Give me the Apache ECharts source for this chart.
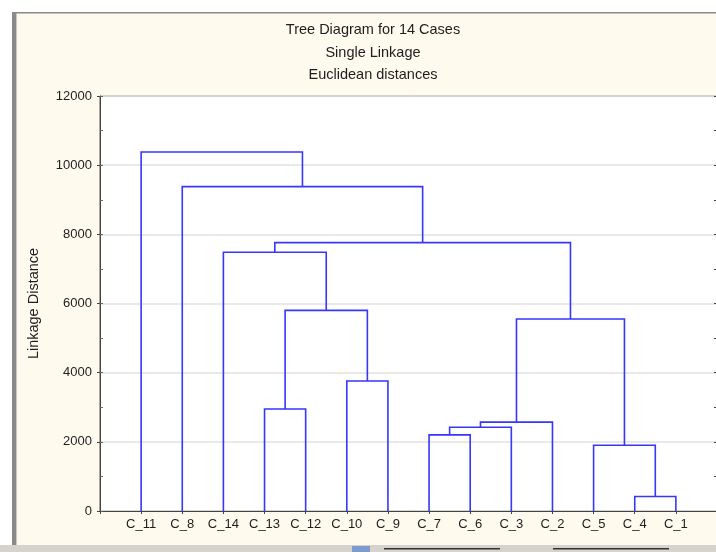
<!DOCTYPE html>
<html>
<head>
<meta charset="utf-8">
<script src="https://cdn.jsdelivr.net/npm/echarts@6/dist/echarts.min.js"></script>
<style>
  html, body { margin: 0; padding: 0; background: #ffffff; }
  #chart { width: 716px; height: 552px; }
</style>
</head>
<body>
<div id="chart"></div>
<script>
// Leaf order along the horizontal axis
const leaves = ['C_11', 'C_8', 'C_14', 'C_13', 'C_12', 'C_10', 'C_9',
                'C_7', 'C_6', 'C_3', 'C_2', 'C_5', 'C_4', 'C_1'];

// Each merge joins two nodes; leaves are nodes 0..13, merge k creates node 14+k
const mergeLeft   = [12, 11, 7, 16, 17, 3, 5, 18, 19, 2, 23, 1, 0];
const mergeRight  = [13, 14, 8, 9, 10, 4, 6, 15, 20, 22, 21, 24, 25];
const mergeHeight = [420, 1900, 2200, 2420, 2570, 2950, 3760, 5550, 5800, 7480, 7760, 9380, 10380];

const yTicks = [0, 2000, 4000, 6000, 8000, 10000, 12000];

const titleLines = ['Tree Diagram for 14 Cases', 'Single Linkage', 'Euclidean distances'];

// Position (x) and height of every node, filled in as merges are processed
const nodeX = leaves.map((_, i) => i + 1);
const nodeH = leaves.map(() => 0);
const links = [];
mergeHeight.forEach((h, k) => {
  const a = mergeLeft[k], b = mergeRight[k];
  links.push([nodeX[a], nodeH[a], nodeX[b], nodeH[b], h]);
  nodeX.push((nodeX[a] + nodeX[b]) / 2);
  nodeH.push(h);
});

const FONT = '"Liberation Sans", Arial, sans-serif';
const chart = echarts.init(document.getElementById('chart'), null, { renderer: 'canvas' });

const yMin = yTicks[0], yMax = yTicks[yTicks.length - 1];

chart.setOption({
  backgroundColor: '#ffffff',
  animation: false,
  graphic: [
    // window panel background and frame
    { type: 'rect', z: -10, silent: true,
      shape: { x: 12, y: 12, width: 740, height: 560 },
      style: { fill: '#fffaee', stroke: null } },
    { type: 'rect', z: -9, silent: true,
      shape: { x: 12, y: 12, width: 4, height: 540 },
      style: { fill: '#8a8a8a' } },
    { type: 'rect', z: -9, silent: true,
      shape: { x: 16, y: 13, width: 1, height: 540 },
      style: { fill: '#c8c8c8' } },
    { type: 'rect', z: -9, silent: true,
      shape: { x: 12, y: 12, width: 720, height: 1.5 },
      style: { fill: '#8a8a8a' } },
    // status strip at the bottom
    { type: 'rect', z: 20, silent: true,
      shape: { x: 0, y: 545, width: 716, height: 7 },
      style: { fill: '#d6d3cc' } },
    { type: 'rect', z: 21, silent: true,
      shape: { x: 352, y: 546, width: 18, height: 6 },
      style: { fill: '#7e9bd0' } },
    { type: 'rect', z: 21, silent: true,
      shape: { x: 384, y: 548, width: 116, height: 1.5 },
      style: { fill: '#333333' } },
    { type: 'rect', z: 21, silent: true,
      shape: { x: 553, y: 548, width: 116, height: 1.5 },
      style: { fill: '#333333' } },
    // title lines
    ...titleLines.map((t, i) => ({
      type: 'text', z: 10, silent: true,
      style: { text: t, x: 373, y: 30 + i * 22.5, align: 'center', verticalAlign: 'middle',
               font: '14.5px ' + FONT, fill: '#1e1e1e' }
    }))
  ],
  grid: { left: 100, top: 96, width: 617, bottom: 41, show: true,
          outerBoundsMode: 'none', containLabel: false,
          backgroundColor: '#ffffff', borderColor: '#555555', borderWidth: 1 },
  xAxis: [
    {
      type: 'value', min: 0, max: leaves.length + 1, interval: 1, position: 'bottom',
      axisLine: { show: true, lineStyle: { color: '#444444', width: 1 } },
      axisTick: { show: false },
      splitLine: { show: false },
      axisLabel: {
        margin: 7, fontFamily: FONT, fontSize: 13, color: '#1e1e1e',
        formatter: v => (v >= 1 && v <= leaves.length) ? leaves[v - 1] : ''
      }
    },
    {
      type: 'value', min: 0, max: leaves.length + 1, interval: 1, position: 'top',
      axisLine: { show: true, lineStyle: { color: '#444444', width: 1 } },
      axisTick: { show: true, inside: true, length: 3, lineStyle: { color: '#444444' } },
      splitLine: { show: false },
      axisLabel: { show: false }
    }
  ],
  yAxis: [
    {
      type: 'value', min: yMin, max: yMax, interval: 2000, position: 'left',
      name: 'Linkage Distance', nameLocation: 'middle', nameGap: 59, nameRotate: 90,
      nameTextStyle: { fontFamily: FONT, fontSize: 14.5, color: '#1e1e1e' },
      axisLine: { show: true, lineStyle: { color: '#444444', width: 1 } },
      axisTick: { show: true, inside: false, length: 3, lineStyle: { color: '#444444' } },
      splitLine: { show: true, lineStyle: { color: '#e2e2e2', width: 1.5 } },
      axisLabel: { margin: 8, fontFamily: FONT, fontSize: 13, color: '#1e1e1e',
                   formatter: v => String(v) }
    },
    {
      type: 'value', min: yMin, max: yMax, interval: 1000, position: 'left',
      axisLine: { show: false },
      axisTick: { show: true, inside: true, length: 3, lineStyle: { color: '#666666' } },
      splitLine: { show: false },
      axisLabel: { show: false }
    },
    {
      type: 'value', min: yMin, max: yMax, interval: 1000, position: 'right',
      axisLine: { show: true, lineStyle: { color: '#444444', width: 1 } },
      axisTick: { show: true, inside: true, length: 3, lineStyle: { color: '#444444' } },
      splitLine: { show: false },
      axisLabel: { show: false }
    }
  ],
  series: [{
    type: 'custom',
    xAxisIndex: 0,
    yAxisIndex: 0,
    silent: true,
    z: 5,
    data: links,
    renderItem: function (params, api) {
      const xl = api.value(0), hl = api.value(1), xr = api.value(2), hr = api.value(3), h = api.value(4);
      const pts = [api.coord([xl, hl]), api.coord([xl, h]), api.coord([xr, h]), api.coord([xr, hr])];
      return {
        type: 'polyline',
        shape: { points: pts },
        style: { stroke: '#3636ff', lineWidth: 1.6, fill: null }
      };
    }
  }]
});
</script>
</body>
</html>
